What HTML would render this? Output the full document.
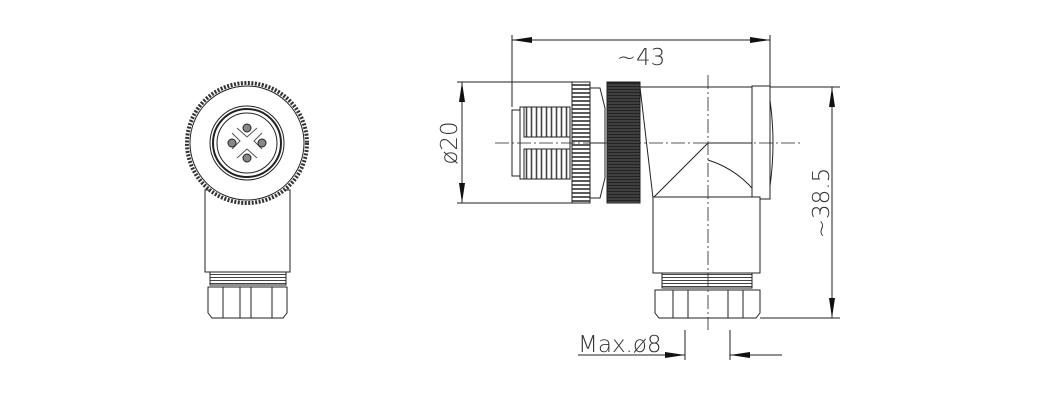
<!DOCTYPE html>
<html><head><meta charset="utf-8"><style>
html,body{margin:0;padding:0;background:#fff;}
svg{display:block;}
text{font-family:"DejaVu Sans","Liberation Sans",sans-serif;fill:#333;font-weight:300;}
</style></head><body>
<svg width="1042" height="400" viewBox="0 0 1042 400" xmlns="http://www.w3.org/2000/svg">
<defs>
<pattern id="kn" width="3" height="4" patternUnits="userSpaceOnUse"><rect width="3" height="4" fill="#fff"/><line x1="0" y1="1" x2="3" y2="1" stroke="#333" stroke-width="1.6"/></pattern>
<pattern id="kd" width="3" height="3" patternUnits="userSpaceOnUse"><rect width="3" height="3" fill="#222"/><line x1="0" y1="1" x2="3" y2="1" stroke="#888" stroke-width="0.6"/></pattern>
<pattern id="th" width="5" height="3" patternUnits="userSpaceOnUse"><rect width="5" height="3" fill="#fff"/><line x1="1.5" y1="0" x2="1.5" y2="3" stroke="#444" stroke-width="1.6"/></pattern>
<pattern id="thh" width="3" height="3" patternUnits="userSpaceOnUse"><rect width="3" height="3" fill="#fff"/><line x1="0" y1="1.5" x2="3" y2="1.5" stroke="#444" stroke-width="1"/></pattern>
</defs>
<g fill="none" stroke="#222" stroke-width="1">
<!-- LEFT VIEW -->
<rect x="205" y="190" width="85" height="82" fill="#fff"/>
<circle cx="247" cy="143" r="60" fill="#fff" stroke="#333" stroke-width="4" stroke-dasharray="2 1.5"/>
<circle cx="247" cy="143" r="57"/>
<circle cx="247" cy="143" r="37"/>
<circle cx="247" cy="143" r="34" stroke-width="2"/>
<circle cx="247" cy="143" r="30"/>
<path d="M232 133 l8 8 l-8 8 M262 133 l-8 8 l8 8 M237 128 l10 9 l10 -9 M237 158 l10 -9 l10 9" stroke="#555"/>
<circle cx="247" cy="128" r="4" fill="#888"/><circle cx="247" cy="158" r="4" fill="#888"/>
<circle cx="232" cy="143" r="4" fill="#888"/><circle cx="262" cy="143" r="4" fill="#888"/>
<rect x="210" y="272" width="76" height="13" fill="url(#thh)"/>
<path d="M208 287 h79 v26 l-4 5 h-71 l-4 -5 z" fill="#fff"/>
<line x1="223" y1="287" x2="223" y2="318"/><line x1="240" y1="287" x2="240" y2="318"/>
<line x1="251" y1="287" x2="251" y2="318"/><line x1="272" y1="287" x2="272" y2="318"/>

<!-- RIGHT VIEW -->
<rect x="512" y="110" width="8" height="66" fill="#fff"/>
<rect x="520" y="107" width="50" height="72" fill="#fff"/>
<rect x="524" y="107" width="46" height="30" fill="url(#th)"/>
<rect x="524" y="149" width="46" height="30" fill="url(#th)"/>
<rect x="572" y="82" width="18" height="121" fill="url(#kn)"/>
<path d="M590 88 h10 l5 20 v70 l-5 20 h-10 z" fill="#fff"/>
<line x1="590" y1="143" x2="605" y2="143"/>
<rect x="607" y="82" width="33" height="121" fill="url(#kd)"/>
<path d="M640 87 h112 v111 h-99 z" fill="#fff"/>
<path d="M653 198 L708 143 H752"/>
<path d="M708 160 Q740 170 760 198"/>
<rect x="752" y="86" width="18" height="113" fill="#fff"/>
<path d="M770 100 q6 43 0 86"/>
<path d="M653 197 h107 v76 h-107 z" fill="#fff"/>
<rect x="662" y="273" width="90" height="15" fill="url(#thh)"/>
<path d="M655 290 h105 v23 l-4 5 h-97 l-4 -5 z" fill="#fff"/>
<line x1="673" y1="290" x2="673" y2="318"/><line x1="688" y1="290" x2="688" y2="318"/>
<line x1="728" y1="290" x2="728" y2="318"/><line x1="743" y1="290" x2="743" y2="318"/>
<!-- centerlines -->
<line x1="495" y1="143" x2="800" y2="143" stroke-dasharray="14 3 2 3" stroke-width="0.8"/>
<line x1="708" y1="75" x2="708" y2="330" stroke-dasharray="14 3 2 3" stroke-width="0.8"/>

<!-- dimensions -->
<line x1="512" y1="35" x2="512" y2="107"/>
<line x1="770" y1="35" x2="770" y2="86"/>
<line x1="512" y1="40" x2="770" y2="40"/>
<line x1="457" y1="82" x2="572" y2="82"/>
<line x1="457" y1="203" x2="572" y2="203"/>
<line x1="462" y1="82" x2="462" y2="203"/>
<line x1="770" y1="87" x2="840" y2="87"/>
<line x1="760" y1="318" x2="840" y2="318"/>
<line x1="832" y1="87" x2="832" y2="318"/>
<line x1="685" y1="330" x2="685" y2="360"/>
<line x1="730" y1="330" x2="730" y2="360"/>
<line x1="578" y1="355" x2="685" y2="355"/>
<line x1="730" y1="355" x2="782" y2="355"/>
</g>
<g fill="#111">
<path d="M512 40 l20 -3 v6 z"/><path d="M770 40 l-20 -3 v6 z"/>
<path d="M462 82 l-3 20 h6 z"/><path d="M462 203 l-3 -20 h6 z"/>
<path d="M832 87 l-3 20 h6 z"/><path d="M832 318 l-3 -20 h6 z"/>
<path d="M685 355 l-20 -3 v6 z"/><path d="M730 355 l20 -3 v6 z"/>
</g>
<text x="641" y="65" font-size="23" text-anchor="middle">~43</text>
<text transform="translate(457 143) rotate(-90)" font-size="23" text-anchor="middle">ø20</text>
<text transform="translate(829 203) rotate(-90)" font-size="23" text-anchor="middle">~38.5</text>
<text x="578" y="352" font-size="23">Max.ø8</text>
</svg>
</body></html>
